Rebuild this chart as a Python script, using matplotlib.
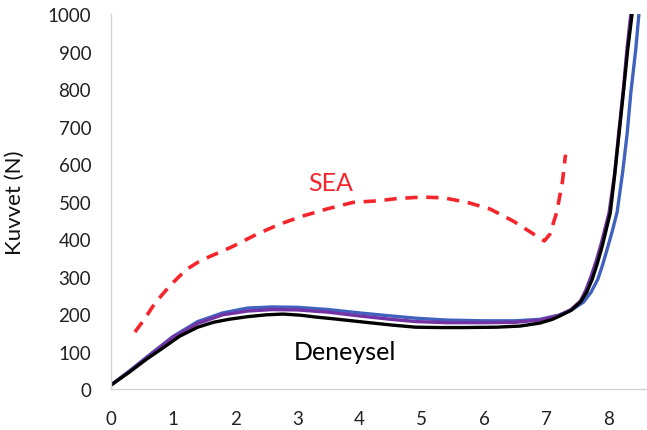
import matplotlib
matplotlib.use("Agg")
import matplotlib.pyplot as plt

plt.rcParams["font.family"] = ["Lato", "DejaVu Sans"]

# deneysel (black)
exp_x = [0, 0.3, 0.58, 0.8, 1.11, 1.4, 1.65, 1.9, 2.2, 2.5, 2.77, 3.05, 3.3, 3.6, 4.1, 4.5, 4.9, 5.3,
         5.67, 6.2, 6.58, 6.9, 7.1, 7.22, 7.4, 7.55, 7.65, 7.74, 7.82, 7.9, 8.03, 8.1, 8.17, 8.24, 8.31,
         8.38, 8.42]
exp_y = [10, 45, 80, 105, 141, 165, 178, 186, 193, 198, 200, 197, 192, 187, 178, 171, 165, 164,
         164, 165, 168, 176, 186, 195, 210, 232, 258, 293, 334, 381, 470, 570, 680, 790, 905,
         1000, 1080]

# blue model
blue_x = [0, 0.3, 0.6, 1.0, 1.4, 1.8, 2.2, 2.6, 3.0, 3.5, 4.0, 4.5, 4.9, 5.4, 6.0, 6.5, 6.9,
          7.2, 7.4, 7.6, 7.72, 7.83, 7.91, 7.98, 8.06, 8.14, 8.23, 8.3, 8.36, 8.44, 8.49, 8.53]
blue_y = [10, 48, 88, 140, 180, 203, 216, 219, 218, 212, 203, 195, 189, 184, 182, 182, 186,
          197, 210, 232, 258, 293, 333, 373, 420, 472, 580, 680, 790, 907, 1000, 1080]

# purple model
purp_x = [0, 0.3, 0.6, 1.0, 1.4, 1.8, 2.2, 2.6, 3.0, 3.5, 4.0, 4.5, 4.9, 5.4, 6.0, 6.5, 6.9,
          7.2, 7.4, 7.55, 7.64, 7.72, 7.8, 7.88, 8.01, 8.1, 8.17, 8.24, 8.3, 8.36, 8.4]
purp_y = [10, 47, 86, 138, 175, 198, 208, 212, 211, 205, 195, 186, 180, 177, 177, 178, 184,
          196, 212, 235, 265, 300, 340, 385, 470, 575, 690, 800, 910, 1000, 1080]

# SEA (red dashed)
sea_x = [0.39, 0.55, 0.68, 0.82, 0.95, 1.1, 1.23, 1.4, 1.6, 1.8, 1.97, 2.35, 2.72, 3.1, 3.47,
         3.9, 4.3, 4.6, 5.0, 5.35, 5.73, 6.1, 6.47, 6.8, 6.97, 7.06, 7.17, 7.26, 7.31]
sea_y = [152, 188, 221, 250, 275, 300, 320, 338, 354, 368, 381, 413, 440, 462, 480,
         498, 502, 508, 512, 510, 498, 480, 448, 413, 395, 413, 472, 552, 625]

fig = plt.figure(figsize=(6.47, 4.31), dpi=100)
ax = fig.add_axes([0.171, 0.095, 0.829, 0.87])

ax.plot(blue_x, blue_y, color="#4062BE", lw=2.4, solid_capstyle="round", solid_joinstyle="round")
ax.plot(purp_x, purp_y, color="#7433A4", lw=2.4, solid_capstyle="round", solid_joinstyle="round")
ax.plot(exp_x, exp_y, color="black", lw=2.4, solid_capstyle="round", solid_joinstyle="round")
ax.plot(sea_x, sea_y, color="#F4262C", lw=2.6, dashes=(3.4, 2.4))

ax.text(3.53, 552, "SEA", color="#F4262C", fontsize=18, ha="center", va="center")
ax.text(3.77, 101, "Deneysel", color="black", fontsize=18, ha="center", va="center")

ax.set_xlim(0, 8.62)
ax.set_ylim(0, 1000)
ax.set_xticks(range(0, 9))
ax.set_yticks(range(0, 1001, 100))
ax.tick_params(length=0, labelsize=13.5, colors="#222222")
ax.tick_params(axis="x", pad=15)
ax.tick_params(axis="y", pad=14)
ax.set_ylabel("Kuvvet (N)", fontsize=16, color="#111111")
ax.yaxis.set_label_coords(-0.16, 0.5)

for s in ["top", "right"]:
    ax.spines[s].set_visible(False)
for s in ["left", "bottom"]:
    ax.spines[s].set_color("#d4d4d4")
    ax.spines[s].set_linewidth(1.0)

fig.savefig("out.png", dpi=100)
